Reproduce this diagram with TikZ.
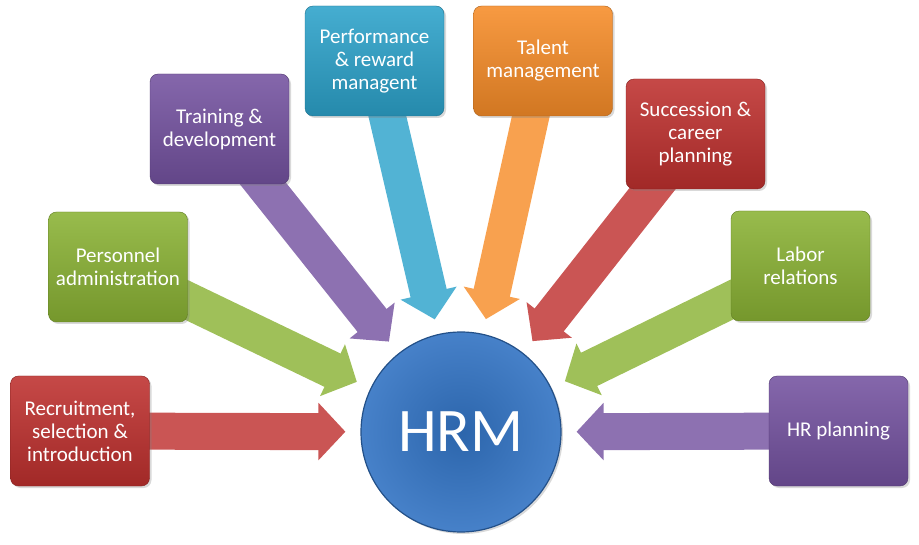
\documentclass[tikz,border=0pt]{standalone}
\usepackage{fontspec}
\setmainfont{Carlito}
\usepackage{tikz}
\usetikzlibrary{positioning,arrows.meta,shadows,backgrounds}

\definecolor{hrred}{RGB}{190,48,46}
\definecolor{hrgreen}{RGB}{138,178,52}
\definecolor{hrpurple}{RGB}{116,82,160}
\definecolor{hraqua}{RGB}{44,162,202}
\definecolor{hrorange}{RGB}{246,140,40}
\definecolor{hrblue}{RGB}{50,115,195}

\newcommand\boxfont{\fontsize{21}{23}\selectfont}

\begin{document}
\begin{tikzpicture}[
  x=1pt, y=-1pt,
  area/.style={draw=#1!70!black, rounded corners=8pt, inner sep=1pt,
               top color=#1!88!white, bottom color=#1!85!black,
               minimum width=139pt, minimum height=110pt, align=center,
               text=white, font=\boxfont,
               drop shadow={opacity=0.3, shadow xshift=2pt, shadow yshift=-2pt}},
  feed/.style={line width=37pt, draw=#1!82!white,
               -{Triangle[length=27pt, width=56pt]}, shorten >=15pt},
]
  \useasboundingbox (0,0) rectangle (919,545);

  % the centre
  \node[circle, minimum size=200pt, inner sep=0pt, draw=hrblue!70!black,
        line width=1.2pt, inner color=hrblue!88!black, outer color=hrblue!90!white,
        text=white, font=\fontsize{62}{70}\selectfont,
        drop shadow={opacity=0.3, shadow xshift=2pt, shadow yshift=-2pt}]
        (hrm) at (461,432) {HRM};

  % the eight functions
  \node[area=hrred]    (rec) at (80,431)    {Recruitment,\\ selection \&\\ introduction};
  \node[area=hrgreen]  (adm) at (118,267)   {Personnel\\ administration};
  \node[area=hrpurple] (trn) at (219.5,129) {Training \&\\ development};
  \node[area=hraqua]   (prf) at (374.5,61)  {Performance\\ \& reward\\ managent};
  \node[area=hrorange] (tal) at (543,61)    {Talent\\ management};
  \node[area=hrred]    (suc) at (695.5,134) {Succession \&\\ career\\ planning};
  \node[area=hrgreen]  (lab) at (800.5,266) {Labor\\ relations};
  \node[area=hrpurple] (hrp) at (838.5,431) {HR planning};

  % arrows into HRM, behind the boxes
  \begin{scope}[on background layer]
    \draw[feed=hrred]    (rec.center) -- (hrm);
    \draw[feed=hrgreen]  (adm.center) -- (hrm);
    \draw[feed=hrpurple] (trn.center) -- (hrm);
    \draw[feed=hraqua]   (prf.center) -- (hrm);
    \draw[feed=hrorange] (tal.center) -- (hrm);
    \draw[feed=hrred]    (suc.center) -- (hrm);
    \draw[feed=hrgreen]  (lab.center) -- (hrm);
    \draw[feed=hrpurple] (hrp.center) -- (hrm);
  \end{scope}
\end{tikzpicture}
\end{document}
